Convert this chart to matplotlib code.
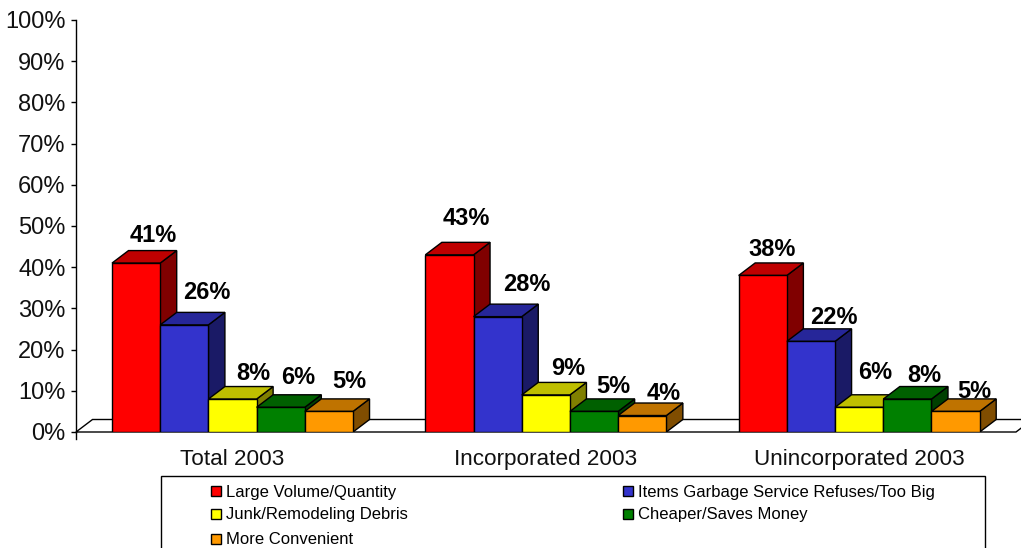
#!/usr/bin/env python3
"""Reasons for self-hauling, 3D-look clustered bars drawn on a flat axes"""

import matplotlib
matplotlib.use('Agg')
import matplotlib.pyplot as plt
from matplotlib.patches import Polygon, Rectangle

plt.rcParams['font.family'] = ['Liberation Sans', 'DejaVu Sans']

# data
groups = ['Total 2003', 'Incorporated 2003', 'Unincorporated 2003']
large_volume = [41, 43, 38]
too_big = [26, 28, 22]
junk_debris = [8, 9, 6]
cheaper = [6, 5, 8]
convenient = [5, 4, 5]
series_names = ['Large Volume/Quantity', 'Items Garbage Service Refuses/Too Big',
                'Junk/Remodeling Debris', 'Cheaper/Saves Money', 'More Convenient']
series_values = [large_volume, too_big, junk_debris, cheaper, convenient]
y_ticks = list(range(0, 101, 10))

# style
colors = ['#FF0000', '#3333CC', '#FFFF00', '#008000', '#FF9900']
LW = 1.0
W, H = 1021, 548
GROUP_PX = 313.3
BAR_W = 48.2 / GROUP_PX
BAR_START = 36.0 / GROUP_PX
DEPTH_X = 16.5 / GROUP_PX
DEPTH_Y = 12.5 / 4.12

# hand placed label nudges in pixels, from bar centre/back top edge (per series, per group)
label_dx = [[17, 17, 9], [23, 29, 23], [21, 22, 16], [17, 19, 17], [20, 21, 19]]
label_dy = [[15, 24, 13], [20, 20, 11], [13, 14, 22], [17, 12, 11], [17, 10, 7]]


def shade(color, k):
    rgb = matplotlib.colors.to_rgb(color)
    return tuple(c * k for c in rgb)


def draw_bar(ax, x, h, color):
    """Front, top and side faces of one bar"""
    x1 = x + BAR_W
    top = [(x, h), (x + DEPTH_X, h + DEPTH_Y), (x1 + DEPTH_X, h + DEPTH_Y), (x1, h)]
    side = [(x1, 0), (x1 + DEPTH_X, DEPTH_Y), (x1 + DEPTH_X, h + DEPTH_Y), (x1, h)]
    ax.add_patch(Polygon(side, fc=shade(color, 0.5), ec='black', lw=LW))
    ax.add_patch(Polygon(top, fc=shade(color, 0.75), ec='black', lw=LW))
    ax.add_patch(Rectangle((x, 0), BAR_W, h, fc=color, ec='black', lw=LW))


fig = plt.figure(figsize=(W / 100, H / 100), dpi=100)
ax = fig.add_axes([76 / W, (H - 432) / H, 940 / W, 412 / H])
ax.set_xlim(0, len(groups))
ax.set_ylim(0, 100)

# floor
floor = [(0, 0), (DEPTH_X, DEPTH_Y), (len(groups) + DEPTH_X, DEPTH_Y), (len(groups), 0)]
ax.add_patch(Polygon(floor, fc='white', ec='black', lw=LW, clip_on=False))
ax.plot([0, 0], [0, -1.6], color='black', lw=LW, clip_on=False)

for g in range(len(groups)):
    for s, vals in enumerate(series_values):
        x = g + BAR_START + s * BAR_W
        draw_bar(ax, x, vals[g], colors[s])
        ax.annotate(f'{vals[g]}%', (x + BAR_W / 2, vals[g] + DEPTH_Y),
                    xytext=(label_dx[s][g], label_dy[s][g]), textcoords='offset pixels',
                    ha='center', va='center', fontsize=17, fontweight='bold',
                    color='black', annotation_clip=False)

for name in ['top', 'right', 'bottom']:
    ax.spines[name].set_visible(False)
ax.spines['left'].set_linewidth(LW)
ax.set_yticks(y_ticks)
ax.set_yticklabels([f'{t}%' for t in y_ticks], fontsize=17, color='#111111')
ax.tick_params(axis='y', length=3.6, width=LW, pad=4)
ax.set_xticks([i + 0.5 for i in range(len(groups))])
ax.set_xticklabels(groups, fontsize=16.2, color='#111111')
ax.tick_params(axis='x', length=0, pad=12.5)

# legend box runs off the bottom of the picture, so it is drawn by hand
leg = fig.add_axes([0, 0, 1, 1], facecolor='none')
leg.set_xlim(0, W)
leg.set_ylim(H, 0)
leg.axis('off')
leg.add_patch(Rectangle((161, 476), 824, 100, fc='white', ec='black', lw=LW))
leg_spots = [(216, 491), (628, 491), (216, 514), (628, 514), (216, 539)]
for name, color, (lx, ly) in zip(series_names, colors, leg_spots):
    leg.add_patch(Rectangle((lx - 5, ly - 5), 10, 10, fc=color, ec='black', lw=LW))
    leg.text(lx + 10, ly + 1, name, fontsize=12, va='center', ha='left', color='black')

plt.savefig('out.png', dpi=100)
